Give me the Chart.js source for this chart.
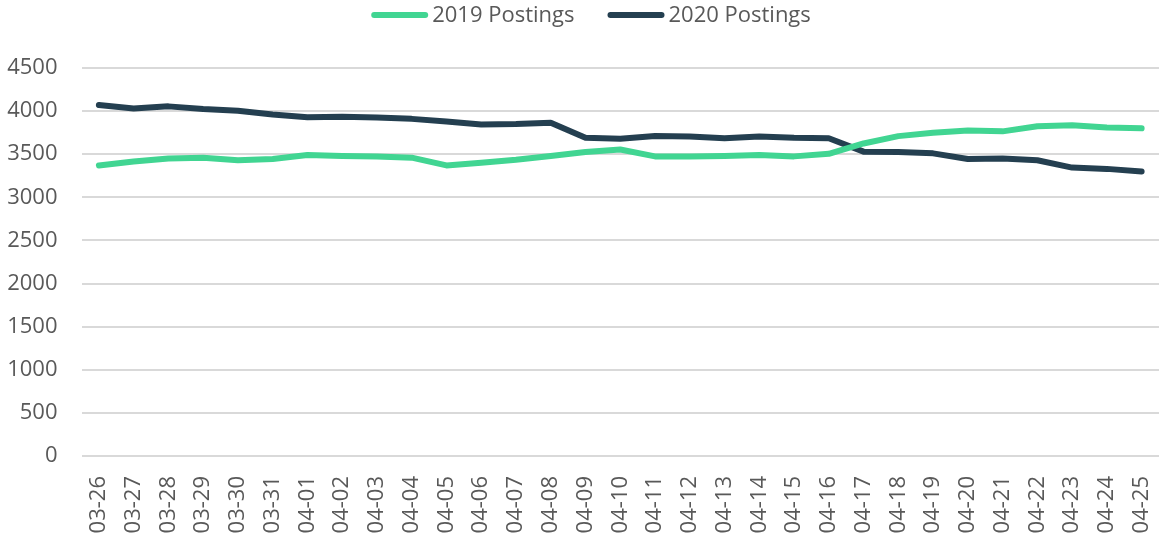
<!DOCTYPE html>
<html>
<head>
<meta charset="utf-8">
<script src="https://cdn.jsdelivr.net/npm/chart.js@4"></script>
<style>
  html, body { margin: 0; padding: 0; background: #ffffff; }
  #wrap { width: 1159px; height: 538px; position: relative; }
</style>
</head>
<body>
<div id="wrap"><canvas id="c" width="1159" height="538"></canvas></div>
<script>
const categories = ["03-26","03-27","03-28","03-29","03-30","03-31","04-01","04-02","04-03","04-04","04-05","04-06","04-07","04-08","04-09","04-10","04-11","04-12","04-13","04-14","04-15","04-16","04-17","04-18","04-19","04-20","04-21","04-22","04-23","04-24","04-25"];
const postings2019 = [3370,3415,3450,3460,3430,3445,3490,3480,3475,3460,3370,3400,3435,3480,3525,3555,3475,3475,3480,3490,3475,3505,3625,3710,3750,3775,3765,3825,3835,3810,3800];
const postings2020 = [4070,4030,4055,4025,4005,3960,3930,3935,3925,3910,3880,3845,3850,3865,3690,3680,3710,3705,3685,3705,3690,3685,3530,3525,3510,3445,3450,3430,3345,3330,3300];
const seriesNames = ["2019 Postings", "2020 Postings"];
const yTicks = [0,500,1000,1500,2000,2500,3000,3500,4000,4500];

const GREEN = '#41D592';
const DARK = '#243F50';
const TEXT = '#595959';
const FONT = '"Open Sans", "Liberation Sans", sans-serif';

const legendPlugin = {
  id: 'customLegend',
  afterDraw(chart) {
    const ctx = chart.ctx;
    const fontSize = 22;
    ctx.save();
    ctx.font = fontSize + 'px ' + FONT;
    const boxW = 57, gap = 4, itemGap = 33;
    const items = chart.data.datasets.map(ds => ({ text: ds.label, color: ds.borderColor, w: ctx.measureText(ds.label).width }));
    let total = 0;
    items.forEach((it, i) => { total += boxW + gap + it.w + (i ? itemGap : 0); });
    let x = 591 - total / 2;
    const y = 15;
    items.forEach(it => {
      ctx.strokeStyle = it.color;
      ctx.lineWidth = 6;
      ctx.lineCap = 'round';
      ctx.beginPath();
      ctx.moveTo(x + 3, y);
      ctx.lineTo(x + boxW - 3, y);
      ctx.stroke();
      ctx.fillStyle = TEXT;
      ctx.textBaseline = 'middle';
      ctx.textAlign = 'left';
      ctx.fillText(it.text, x + boxW + gap, y + 1);
      x += boxW + gap + it.w + itemGap;
    });
    ctx.restore();
  }
};

new Chart(document.getElementById('c'), {
  type: 'line',
  data: {
    labels: categories,
    datasets: [
      { label: seriesNames[0], data: postings2019, borderColor: GREEN, backgroundColor: GREEN, borderWidth: 6, pointRadius: 0, tension: 0, borderCapStyle: 'round', borderJoinStyle: 'round' },
      { label: seriesNames[1], data: postings2020, borderColor: DARK, backgroundColor: DARK, borderWidth: 6, pointRadius: 0, tension: 0, borderCapStyle: 'round', borderJoinStyle: 'round' }
    ]
  },
  options: {
    responsive: false,
    animation: false,
    devicePixelRatio: 1,
    layout: { padding: { top: 68, left: 0, right: 0, bottom: 0 } },
    plugins: {
      legend: { display: false },
      tooltip: { enabled: false }
    },
    scales: {
      x: {
        offset: true,
        grid: { display: false, drawTicks: false },
        border: { display: false },
        ticks: {
          color: TEXT,
          font: { family: FONT, size: 22 },
          minRotation: 90,
          maxRotation: 90,
          autoSkip: false,
          padding: 20
        },
        afterFit(scale) { scale.height = 82; scale.paddingLeft = 0; scale.paddingRight = 0; }
      },
      y: {
        min: 0,
        max: 4500,
        afterBuildTicks(scale) { scale.ticks = yTicks.map(v => ({ value: v })); },
        grid: { color: '#D9D9D9', lineWidth: 2, drawTicks: false },
        border: { display: false },
        ticks: {
          color: TEXT,
          font: { family: FONT, size: 22 },
          padding: 24,
          callback: (v) => String(v)
        },
        afterFit(scale) { scale.width = 81.5; }
      }
    }
  },
  plugins: [legendPlugin]
});
</script>
</body>
</html>
